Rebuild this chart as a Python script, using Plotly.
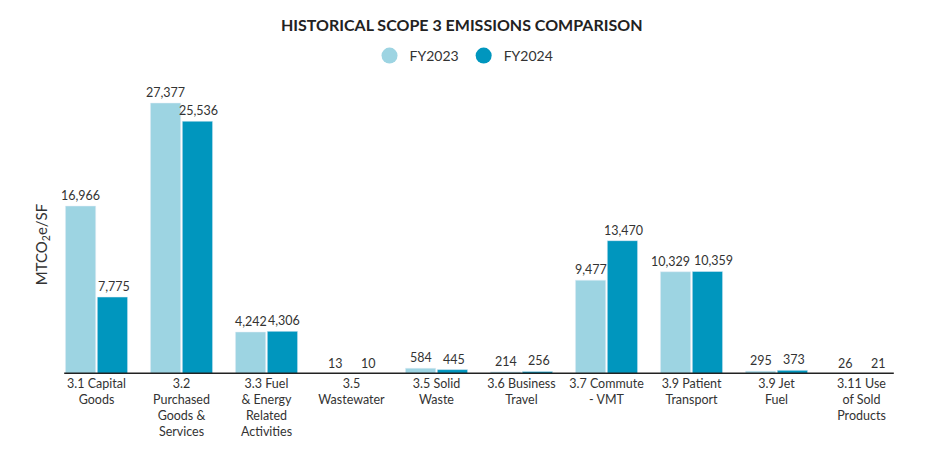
import plotly.graph_objects as go

categories = ["3.1 Capital<br>Goods", "3.2<br>Purchased<br>Goods &<br>Services",
              "3.3 Fuel<br>& Energy<br>Related<br>Activities", "3.5<br>Wastewater",
              "3.5 Solid<br>Waste", "3.6 Business<br>Travel", "3.7 Commute<br>- VMT",
              "3.9 Patient<br>Transport", "3.9 Jet<br>Fuel", "3.11 Use<br>of Sold<br>Products"]
fy2023 = [16966, 27377, 4242, 13, 584, 214, 9477, 10329, 295, 26]
fy2024 = [7775, 25536, 4306, 10, 445, 256, 13470, 10359, 373, 21]

c23 = "#9dd4e2"
c24 = "#0096be"
font = "Lato"

fig = go.Figure()
fig.add_trace(go.Bar(x=categories, y=fy2023, marker_color=c23, name="FY2023", showlegend=False))
fig.add_trace(go.Bar(x=categories, y=fy2024, marker_color=c24, name="FY2024", showlegend=False))
for nm, c in [("FY2023", c23), ("FY2024", c24)]:
    fig.add_trace(go.Scatter(x=[None], y=[None], mode="markers", name=nm,
                             marker=dict(symbol="circle", size=20, color=c)))

# value labels (pixel offsets from category centre; wider spread where labels would collide)
annots = []
for i, cat in enumerate(categories):
    a, b = fy2023[i], fy2024[i]
    spread = 5 if abs(a - b) < 1500 and max(a, b) >= 10000 else 0
    annots.append(dict(x=cat, y=a, xref="x", yref="y", text=f"{a:,}", showarrow=False,
                       xshift=-16 - spread, yshift=1, yanchor="bottom",
                       font=dict(size=12.5, color="#333")))
    annots.append(dict(x=cat, y=b, xref="x", yref="y", text=f"{b:,}", showarrow=False,
                       xshift=17 + spread, yshift=1, yanchor="bottom",
                       font=dict(size=12.5, color="#333")))

annots.append(dict(text="MTCO<sub>2</sub>e/SF", textangle=-90, xref="paper", yref="paper",
                   x=-0.0145, y=0.44, showarrow=False, xanchor="center", yanchor="middle",
                   font=dict(size=15, color="#333")))

fig.add_shape(type="line", xref="x", yref="y", x0=-0.38, x1=9.38, y0=0, y1=0,
              line=dict(color="#222", width=3))

fig.update_layout(
    width=925, height=450,
    margin=dict(l=46, r=29, t=72, b=84, autoexpand=False),
    paper_bgcolor="white", plot_bgcolor="white",
    font=dict(family=font, size=12.5, color="#333"),
    barmode="group", bargap=0.25, bargroupgap=0.05,
    title=dict(text="<b>HISTORICAL SCOPE 3 EMISSIONS COMPARISON</b>", x=0.4905, xref="container",
               xanchor="center", y=1 - 17 / 450, yref="container", yanchor="middle",
               font=dict(family=font, size=16, color="#222", weight=900)),
    legend=dict(orientation="h", x=0.493, xref="container", xanchor="center",
                y=1 - 48 / 450, yref="container", yanchor="middle",
                font=dict(size=14, color="#333"), itemsizing="trace"),
    xaxis=dict(showline=False, ticks="", tickfont=dict(size=12.5, color="#333"), showgrid=False,
               automargin=False),
    yaxis=dict(range=[0, 29700], showticklabels=False, showgrid=False, zeroline=False,
               showline=False, automargin=False),
    annotations=annots,
)

fig.write_html("out.html")
